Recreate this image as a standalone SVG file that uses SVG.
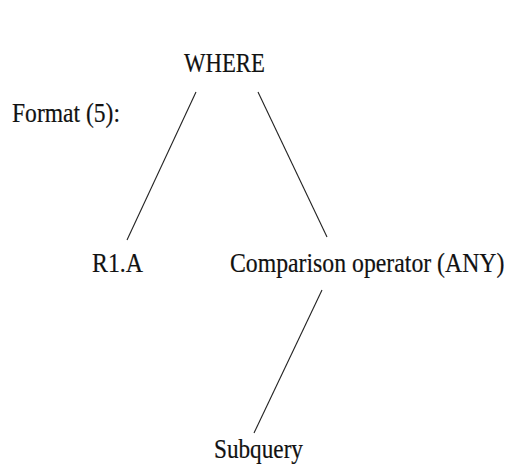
<svg xmlns="http://www.w3.org/2000/svg" width="510" height="465" viewBox="0 0 510 465">
  <style>
    .lbl { font-family: "Liberation Serif", "Times New Roman", serif; font-size: 27px; fill: #111; stroke: #111; stroke-width: 0.2; }
    .edge { stroke: #222; stroke-width: 1.1; fill: none; }
  </style>
  <rect width="510" height="465" fill="#fff"/>
  <text class="lbl" transform="translate(12,122) scale(0.873,1)">Format (5):</text>
  <g id="connectors">
    <line class="edge" x1="196" y1="92" x2="127" y2="240"/>
    <line class="edge" x1="258" y1="92" x2="327" y2="237"/>
    <line class="edge" x1="322" y1="290" x2="254" y2="433"/>
  </g>
  <g id="node-where">
    <text class="lbl" transform="translate(184,72) scale(0.844,1)">WHERE</text>
  </g>
  <g id="node-r1a">
    <text class="lbl" transform="translate(92,272) scale(0.883,1)">R1.A</text>
  </g>
  <g id="node-comparison">
    <text class="lbl" transform="translate(230,272) scale(0.88,1)">Comparison operator (ANY)</text>
  </g>
  <g id="node-subquery">
    <text class="lbl" transform="translate(214,458) scale(0.86,1)">Subquery</text>
  </g>
</svg>
